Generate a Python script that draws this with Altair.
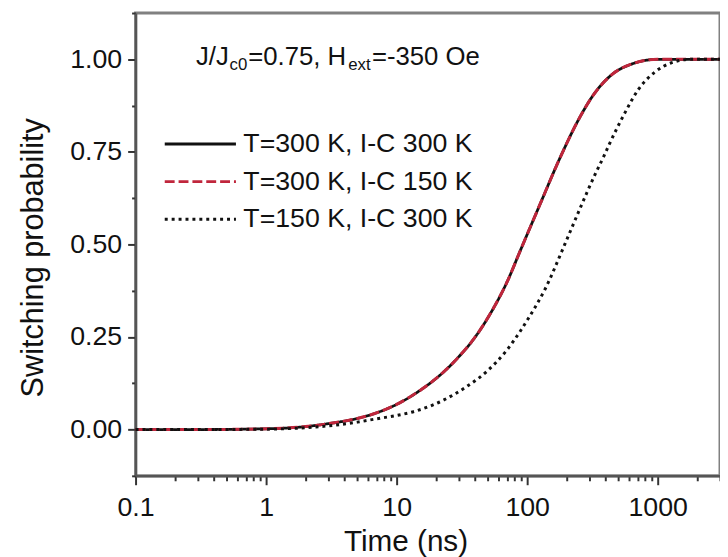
import altair as alt
import pandas as pd

names = ["T=300 K, I-C 300 K", "T=300 K, I-C 150 K", "T=150 K, I-C 300 K"]
colors = ["#111111", "#c0263c", "#111111"]
dashes = [[1, 0], [10, 4], [3, 4]]

times_a = [0.1, 0.3, 1, 2, 3, 5, 7, 10, 15, 22, 30, 40, 53, 70, 89, 126, 178, 250, 316, 450, 630, 800, 1000, 3000]
p_a = [0, 0, 0.002, 0.008, 0.016, 0.03, 0.045, 0.068, 0.105, 0.15, 0.197, 0.25, 0.317, 0.398, 0.485, 0.61, 0.733, 0.84, 0.9, 0.96, 0.987, 0.997, 1.0, 1.0]

times_b = [0.1, 0.3, 1, 2, 3, 5, 7, 10, 15, 22, 30, 40, 53, 70, 89, 126, 178, 250, 316, 450, 630, 800, 1000, 3000]
p_b = [0, 0, 0.002, 0.008, 0.016, 0.03, 0.045, 0.068, 0.105, 0.15, 0.197, 0.25, 0.317, 0.398, 0.485, 0.61, 0.733, 0.84, 0.9, 0.96, 0.987, 0.997, 1.0, 1.0]

times_c = [0.1, 0.3, 1, 2, 3, 5, 7, 10, 14, 23, 34, 49, 70, 89, 102, 137, 194, 256, 327, 390, 425, 550, 716, 946, 1260, 1800, 3000]
p_c = [0, 0, 0.001, 0.005, 0.01, 0.02, 0.029, 0.038, 0.05, 0.08, 0.115, 0.157, 0.215, 0.267, 0.3, 0.379, 0.5, 0.6, 0.685, 0.741, 0.77, 0.85, 0.92, 0.965, 0.99, 1.0, 1.0]

x_major = [0.1, 1, 10, 100, 1000]
x_minor = [m * d for d in [0.1, 1, 10, 100, 1000] for m in range(2, 10) if m * d <= 3000]
y_major = [0, 0.25, 0.5, 0.75, 1.0]
y_minor = [-0.125, 0.125, 0.375, 0.625, 0.875, 1.125]

rows = []
for name, ts, ps in [(names[0], times_a, p_a), (names[1], times_b, p_b), (names[2], times_c, p_c)]:
    for t, p in zip(ts, ps):
        rows.append({"series": name, "t": t, "p": p})
df = pd.DataFrame(rows)

FONT = "Liberation Sans"
xscale = alt.Scale(type="log", domain=[0.1, 3000], nice=False)
yscale = alt.Scale(domain=[-0.125, 1.125], nice=False, zero=False)

x_axis = alt.Axis(values=x_major, format="~g", title="Time (ns)", grid=False, orient="bottom",
                  tickSize=9, tickWidth=2, tickColor="#333333",
                  domainColor="#555555", domainWidth=2.5,
                  labelFontSize=27, labelFont=FONT, labelColor="#111111", labelPadding=10,
                  labelFlush=False,
                  titleFontSize=30, titleFont=FONT, titleFontWeight="normal", titleColor="#111111",
                  titleX=273, titleY=76, titleBaseline="alphabetic")
y_axis = alt.Axis(values=y_major, format=".2f", title="Switching probability", grid=False, orient="left",
                  tickSize=8, tickWidth=2, tickColor="#333333",
                  domainColor="#555555", domainWidth=2.5,
                  labelFontSize=27, labelFont=FONT, labelColor="#111111", labelPadding=6,
                  titleFontSize=31, titleFont=FONT, titleFontWeight="normal", titleColor="#111111",
                  titleX=-94, titleY=247, titleBaseline="alphabetic")

x_minor_axis = alt.Axis(values=x_minor, labels=False, title=None, grid=False, domain=False,
                        tickSize=5, tickWidth=2, tickColor="#333333", orient="bottom")
y_minor_axis = alt.Axis(values=y_minor, labels=False, title=None, grid=False, domain=False,
                        tickSize=4, tickWidth=2, tickColor="#333333", orient="left")

color_enc = alt.Color("series:N", scale=alt.Scale(domain=names, range=colors), title=None)
dash_enc = alt.StrokeDash("series:N", scale=alt.Scale(domain=names, range=dashes), title=None)

minor = alt.Chart(df).mark_line(opacity=0).encode(
    x=alt.X("t:Q", scale=xscale, axis=x_minor_axis),
    y=alt.Y("p:Q", scale=yscale, axis=y_minor_axis),
)

def series_layer(name, width):
    return alt.Chart(df).transform_filter(alt.datum.series == name).mark_line(
        strokeWidth=width, interpolate="monotone"
    ).encode(
        x=alt.X("t:Q", scale=xscale, axis=x_axis),
        y=alt.Y("p:Q", scale=yscale, axis=y_axis),
        color=color_enc,
        strokeDash=dash_enc,
    )

lines = alt.layer(series_layer(names[0], 2.8), series_layer(names[1], 3), series_layer(names[2], 3))

def txt(s, x, y, size):
    return alt.Chart().mark_text(text=s, align="left", baseline="alphabetic", fontSize=size,
                                 font=FONT, color="#111111").encode(x=alt.value(x), y=alt.value(y))

annot = alt.layer(
    txt("J/J", 61, 53, 26),
    txt("c0", 95, 58, 17),
    txt("=0.75, H", 114, 53, 26),
    txt("ext", 215, 58, 17),
    txt("=-350 Oe", 239, 53, 26),
)

chart = alt.layer(minor, lines, annot).resolve_axis(x="independent", y="independent").properties(
    width=591, height=468,
    autosize=alt.AutoSizeParams(type="none"),
    padding={"left": 129, "top": 2, "right": 0, "bottom": 79},
).configure_view(stroke="#808080", strokeWidth=3).configure_legend(
    orient="none", legendX=52, legendY=119, symbolType="M-3,0H3", symbolSize=576,
    symbolStrokeWidth=3, labelFontSize=27, labelFont=FONT, labelColor="#111111",
    labelOffset=30, rowPadding=10, padding=0, labelLimit=400,
)

chart.save("out.html", embed_options={"renderer": "svg", "actions": False})
